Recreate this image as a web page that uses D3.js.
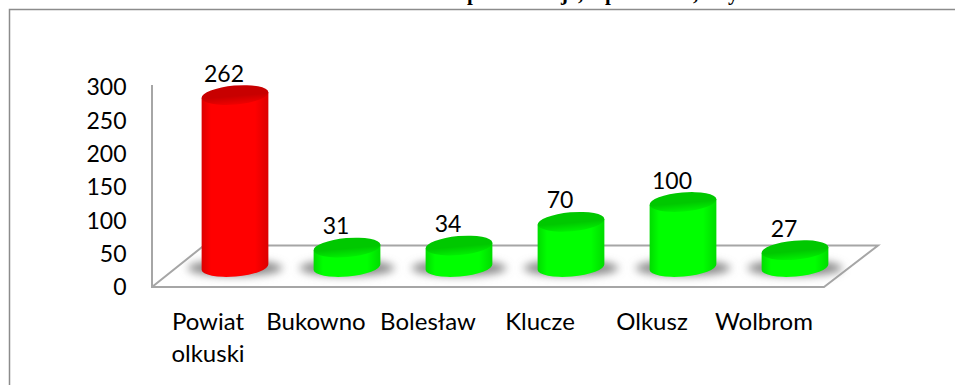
<!DOCTYPE html>
<html>
<head>
<meta charset="utf-8">
<script src="https://cdn.jsdelivr.net/npm/d3@7"></script>
<style>
  html, body { margin: 0; padding: 0; background: #fff; overflow: hidden; }
  text { font-family: Lato, "Open Sans", sans-serif; fill: #000; }
  .title-remnant { font-family: "Liberation Serif", serif; font-weight: bold; }
</style>
</head>
<body>
<div id="chart"></div>
<script>
// --------------- Data ---------------
const categories = [["Powiat", "olkuski"], ["Bukowno"], ["Bolesław"], ["Klucze"], ["Olkusz"], ["Wolbrom"]];
const values = [262, 31, 34, 70, 100, 27];
const barColors = ["red", "green", "green", "green", "green", "green"];
const yTicks = [0, 50, 100, 150, 200, 250, 300];
// only the descenders of the title survive the crop in the source picture
const titleGlyphs = ["p", "j", ",", "p", ",", "y"];

// --------------- Constants ---------------
const WIDTH = 955;
const HEIGHT = 385;
const FONT_SIZE = 23;
const LABEL_FONT_SIZE = 24;
const BAR_RX = 33.5;
const BAR_RY = 9.5;
const TILT = -5;
const TILT_DX = BAR_RX * Math.cos((TILT * Math.PI) / 180);
const TILT_DY = BAR_RX * Math.sin((-TILT * Math.PI) / 180);
const BASE_Y = 267;
const SHADOW_COLOR = "#8a8a8a";
const AXIS_COLOR = "#a6a6a6";
const TITLE_X = [467, 561, 578, 605, 693, 728];
const RAMPS = {
  red: { edge: "#dc0000", mid: "#ff0000", top: "#c80000", rim: "#f00000" },
  green: { edge: "#00dc00", mid: "#00ff00", top: "#00c800", rim: "#00f000" },
};

const svg = d3.select("#chart").append("svg").attr("width", WIDTH).attr("height", HEIGHT);
const defs = svg.append("defs");

// Tick labels follow the wall; bars stand further forward on the floor
const y = d3.scaleLinear().domain([0, 300]).range([287, 87]);
const yBar = d3.scaleLinear().domain([0, 300]).range([BASE_Y + 1, 70]);
const x = d3.scaleBand().domain(d3.range(values.length)).range([179, 851]);

// --------------- Gradients ---------------
Object.entries(RAMPS).forEach(([name, c]) => {
  const side = defs.append("linearGradient").attr("id", `side-${name}`);
  [[0, c.edge], [0.14, c.mid], [0.8, c.mid], [1, c.edge]].forEach(([o, col]) =>
    side.append("stop").attr("offset", o).attr("stop-color", col));
  const top = defs.append("linearGradient").attr("id", `top-${name}`)
    .attr("x1", 0).attr("x2", 0).attr("y1", 0).attr("y2", 1);
  [[0, c.top], [0.55, c.top], [1, c.rim]].forEach(([o, col]) =>
    top.append("stop").attr("offset", o).attr("stop-color", col));
});
const blur = defs.append("filter").attr("id", "soft")
  .attr("x", "-30%").attr("y", "-100%").attr("width", "160%").attr("height", "300%");
blur.append("feGaussianBlur").attr("stdDeviation", 4.5);

// --------------- Frame and title remnant ---------------
svg.append("path")
  .attr("d", `M9.5,${HEIGHT}V9.5H${WIDTH}`)
  .attr("fill", "none")
  .attr("stroke", "#8c8c8c")
  .attr("stroke-width", 1.5);

svg.append("g")
  .selectAll("text")
  .data(titleGlyphs)
  .join("text")
  .attr("class", "title-remnant")
  .attr("x", (_d, i) => TITLE_X[i])
  .attr("y", 0)
  .attr("font-size", 21)
  .text((d) => d);

// --------------- Floor and axis ---------------
svg.append("path")
  .attr("d", "M152,85V287H824L878,245.5H204L152,287")
  .attr("fill", "none")
  .attr("stroke", AXIS_COLOR)
  .attr("stroke-width", 2);

svg.append("g")
  .selectAll("text")
  .data(yTicks)
  .join("text")
  .attr("x", 126.5)
  .attr("y", (d) => y(d))
  .attr("dy", "0.36em")
  .attr("text-anchor", "end")
  .attr("font-size", FONT_SIZE)
  .text((d) => d);

// --------------- Bars ---------------
const bars = svg.append("g")
  .selectAll("g")
  .data(values)
  .join("g")
  .attr("transform", (_d, i) => `translate(${x(i) + x.bandwidth() / 2},0)`);

bars.append("ellipse")
  .attr("cy", BASE_Y + 1)
  .attr("rx", BAR_RX + 14)
  .attr("ry", 8)
  .attr("fill", SHADOW_COLOR)
  .attr("filter", "url(#soft)");

bars.append("path")
  .attr("d", (d) => `M${-TILT_DX},${yBar(d) + TILT_DY}V${BASE_Y + TILT_DY}`
    + `A${BAR_RX},${BAR_RY} ${TILT} 0 0 ${TILT_DX},${BASE_Y - TILT_DY}V${yBar(d) - TILT_DY}Z`)
  .attr("fill", (_d, i) => `url(#side-${barColors[i]})`);

bars.append("ellipse")
  .attr("cy", (d) => yBar(d))
  .attr("rx", BAR_RX)
  .attr("ry", BAR_RY)
  .attr("transform", (d) => `rotate(${TILT} 0 ${yBar(d)})`)
  .attr("fill", (_d, i) => `url(#top-${barColors[i]})`);

bars.append("text")
  .attr("x", -11)
  .attr("y", (d) => yBar(d) - 13.5)
  .attr("text-anchor", "middle")
  .attr("font-size", FONT_SIZE)
  .text((d) => d);

// --------------- Category labels ---------------
svg.append("g")
  .selectAll("text")
  .data(categories)
  .join("text")
  .attr("transform", (d, i) => `translate(${x(i) + x.bandwidth() / 2 - 31 + (d.length > 1 ? 4 : 0)},330)`)
  .attr("text-anchor", "middle")
  .attr("font-size", LABEL_FONT_SIZE)
  .selectAll("tspan")
  .data((d) => d)
  .join("tspan")
  .attr("x", 0)
  .attr("y", (_d, i) => i * 32)
  .text((d) => d);
</script>
</body>
</html>
